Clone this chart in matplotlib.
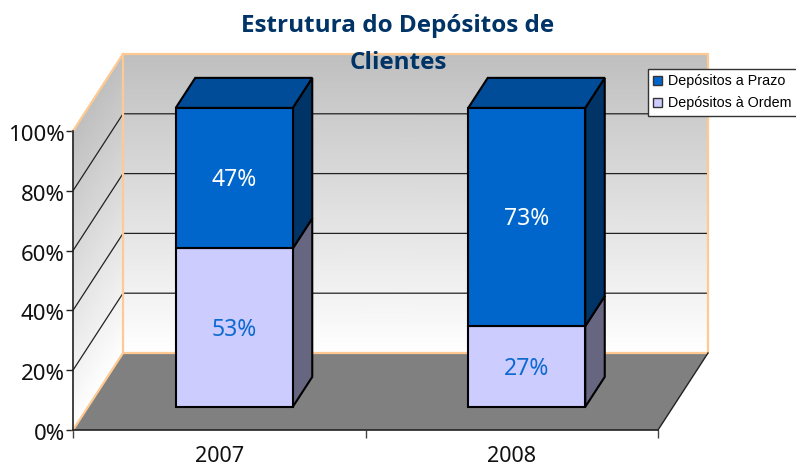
import numpy as np
import matplotlib
matplotlib.use('Agg')
import matplotlib.pyplot as plt
from matplotlib.patches import Polygon, Patch
from matplotlib.colors import LinearSegmentedColormap
from matplotlib.transforms import ScaledTranslation

categories = ['2007', '2008']
ordem = [53, 27]
prazo = [47, 73]
yticks = [0, 20, 40, 60, 80, 100]
title = 'Estrutura do Depósitos de\nClientes'

W, H = 796, 467
fig = plt.figure(figsize=(W / 100, H / 100), dpi=100)
ax = fig.add_axes([73 / W, 37 / H, 585 / W, 299 / H])
ax.set_xlim(0, 2)
ax.set_ylim(0, 100)

# depth goes from 0 (front) to 1 (back wall)
DX = 50 / 292.5
DY = 77 / 2.99
PEACH = '#FFC993'


def pr(x, y, d):
    return (x + d * DX, y + d * DY)


def poly(points, face, edge='black', lw=1.5, z=3):
    ax.add_patch(Polygon(points, closed=True, facecolor=face, edgecolor=edge,
                         linewidth=lw, joinstyle='miter', clip_on=False, zorder=z))


# walls with the vertical gradient
cmap = LinearSegmentedColormap.from_list('wall', ['#FFFFFF', '#BFBFBF'])
v = np.linspace(0, 100, 60)
C = np.tile(v, (2, 1))
bx = np.array([[pr(0, 0, 1)[0]] * 60, [pr(2, 0, 1)[0]] * 60])
by = np.array([[pr(0, t, 1)[1] for t in v]] * 2)
ax.pcolormesh(bx, by, C, cmap=cmap, shading='gouraud', clip_on=False, zorder=1)
sx = np.array([[0.0] * 60, [DX] * 60])
sy = np.array([v, v + DY])
ax.pcolormesh(sx, sy, C, cmap=cmap, shading='gouraud', clip_on=False, zorder=1)

# grid lines on back and side wall
for t in yticks[1:-1]:
    a, b, c = pr(0, t, 0), pr(0, t, 1), pr(2, t, 1)
    ax.plot([a[0], b[0], c[0]], [a[1], b[1], c[1]], color='#222222', lw=0.9,
            clip_on=False, zorder=2)

# floor
poly([pr(0, 0, 0), pr(2, 0, 0), pr(2, 0, 1), pr(0, 0, 1)], '#808080', 'none', 0, 2)

# wall outlines
outline = [pr(0, 100, 0), pr(0, 100, 1), pr(2, 100, 1), pr(2, 0, 1), pr(0, 0, 1), pr(0, 0, 0)]
ax.plot([p[0] for p in outline], [p[1] for p in outline], color=PEACH, lw=1.6,
        clip_on=False, zorder=2.5)
a, b = pr(0, 100, 1), pr(0, 0, 1)
ax.plot([a[0], b[0]], [a[1], b[1]], color=PEACH, lw=1.6, clip_on=False, zorder=2.5)
a, b = pr(2, 0, 0), pr(2, 0, 1)
ax.plot([a[0], b[0]], [a[1], b[1]], color='#222222', lw=1, clip_on=False, zorder=2.6)

# stacked 3d bars
bar_w = 0.4
d0, d1 = 0.3, 0.69
series = [(ordem, '#CCCCFF', '#666680', '#9999C0', '#0F6AD0'),
          (prazo, '#0066CC', '#003366', '#004C99', 'white')]
for i, cat in enumerate(categories):
    x0, x1 = i + 0.5 - bar_w / 2, i + 0.5 + bar_w / 2
    base = 0
    for vals, front, side, top, txt in series:
        t = base + vals[i]
        poly([pr(x1, base, d0), pr(x1, t, d0), pr(x1, t, d1), pr(x1, base, d1)], side)
        poly([pr(x0, base, d0), pr(x1, base, d0), pr(x1, t, d0), pr(x0, t, d0)], front, z=4)
        if t >= 100:
            poly([pr(x0, t, d0), pr(x1, t, d0), pr(x1, t, d1), pr(x0, t, d1)], top)
        cx, cy = pr(i + 0.5, base + vals[i] / 2, d0)
        ax.annotate(f'{vals[i]}%', (cx, cy), xytext=(0, -1.5), textcoords='offset points',
                    color=txt, ha='center', va='center', family='Noto Sans',
                    fontsize=16.5, zorder=6)
        base = t

# axes
ax.patch.set_visible(False)
for s in ['top', 'right']:
    ax.spines[s].set_visible(False)
for s in ['left', 'bottom']:
    ax.spines[s].set_color('#222222')
    ax.spines[s].set_linewidth(1.2)
    ax.spines[s].set_zorder(5)
ax.set_yticks(yticks)
ax.set_yticklabels([f'{t}%' for t in yticks], family='Noto Sans', fontsize=16, color='#111111')
ax.tick_params(axis='y', length=5, width=1, pad=1, color='#222222')
for lbl in ax.get_yticklabels():
    lbl.set_transform(lbl.get_transform() + ScaledTranslation(0, -1.5 / 72, fig.dpi_scale_trans))
ax.set_xticks([0.5, 1.5])
ax.set_xticklabels(categories, family='Noto Sans', fontsize=15.5, color='#111111')
ax.set_xticks([0, 1, 2], minor=True)
ax.tick_params(axis='x', which='major', length=0, pad=11.5)
ax.tick_params(axis='x', which='minor', length=6, width=1, color='#444444')

fig.suptitle(title, x=0.5, y=0.97, va='top', family='Open Sans', fontweight='bold',
             fontsize=17.5, color='#003366', linespacing=1.7, zorder=10)

handles = [Patch(facecolor='#0066CC', edgecolor='#333333', label='Depósitos a Prazo'),
           Patch(facecolor='#CCCCFF', edgecolor='#333333', label='Depósitos à Ordem')]
leg = fig.legend(handles=handles, loc='upper left', bbox_to_anchor=(648 / W, 1 - 69 / H),
                 prop={'family': 'Liberation Sans', 'size': 10.3}, frameon=True, fancybox=False,
                 framealpha=1, edgecolor='#333333', handlelength=0.62, handleheight=0.62,
                 handletextpad=0.4, labelspacing=0.55, borderpad=0.38, borderaxespad=0)
leg.get_frame().set_linewidth(1)
leg.set_zorder(20)

fig.savefig('out.png', dpi=100)
